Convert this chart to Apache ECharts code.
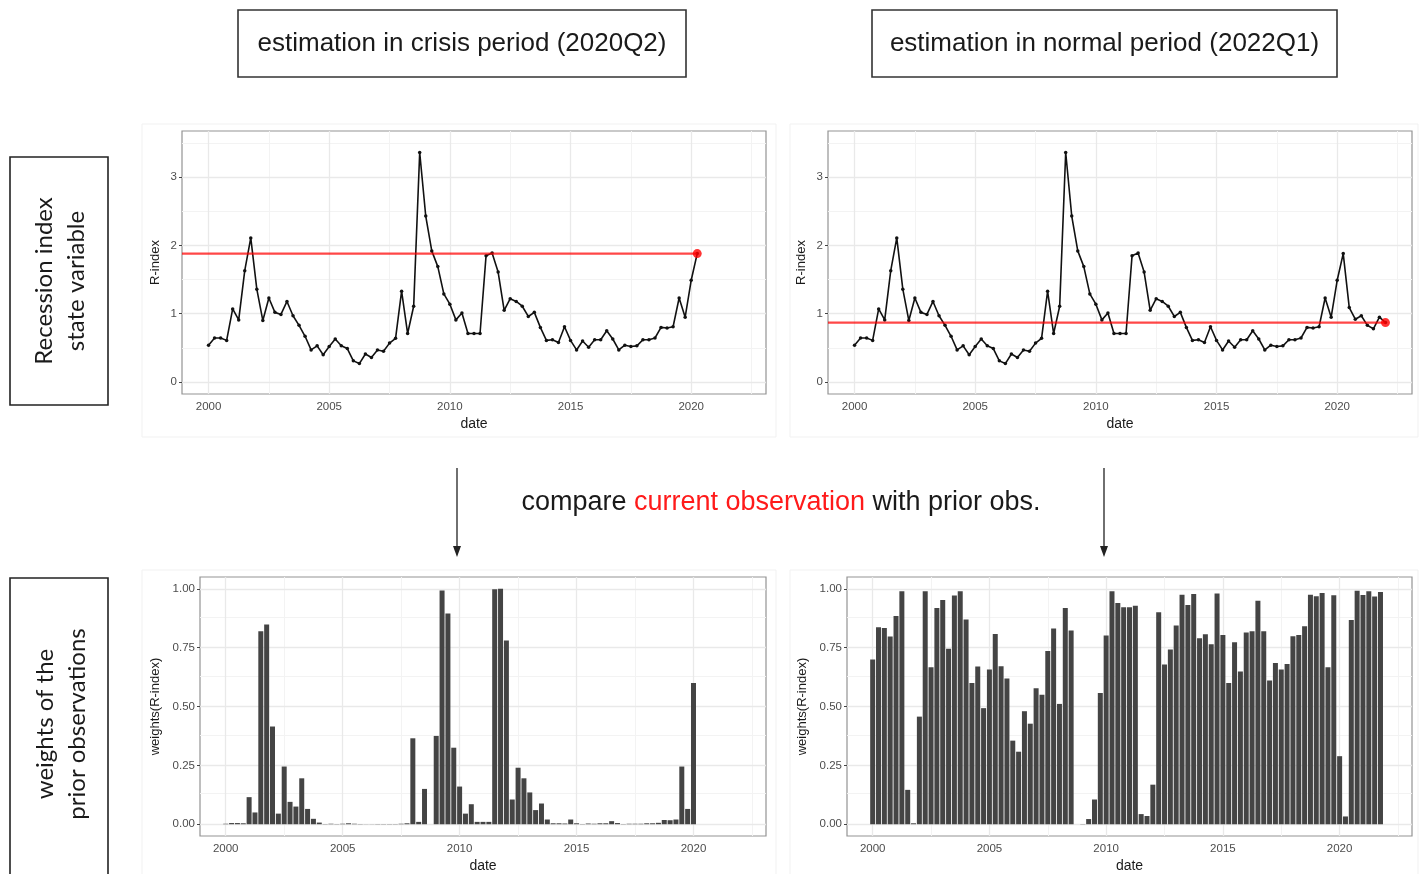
<!DOCTYPE html>
<html>
<head>
<meta charset="utf-8">
<script src="https://cdn.jsdelivr.net/npm/echarts@6/dist/echarts.min.js"></script>
<style>
html,body{margin:0;padding:0;background:#fff;}
#chart{width:1419px;height:874px;}
</style>
</head>
<body>
<div id="chart"></div>
<script>
// ---------------- data ----------------
const startYear = 2000; // first quarter 2000Q1, quarterly steps
// R-index, 2000Q1 .. 2022Q1
const rIndex = [
  0.54, 0.645, 0.645, 0.61,
  1.07, 0.91, 1.63, 2.11,
  1.36, 0.90, 1.23, 1.02,
  0.99, 1.18, 0.97, 0.83,
  0.67, 0.47, 0.53, 0.40,
  0.52, 0.63, 0.53, 0.49,
  0.31, 0.27, 0.41, 0.36,
  0.47, 0.45, 0.57, 0.64,
  1.33, 0.71, 1.11, 3.36,
  2.43, 1.92, 1.69, 1.29,
  1.14, 0.91, 1.01, 0.71,
  0.71, 0.71, 1.85, 1.89,
  1.61, 1.05, 1.22, 1.18,
  1.11, 0.96, 1.02, 0.80,
  0.61, 0.62, 0.58, 0.81,
  0.61, 0.47, 0.60, 0.51,
  0.62, 0.62, 0.75, 0.63,
  0.47, 0.54, 0.52, 0.53,
  0.62, 0.62, 0.645, 0.80,
  0.79, 0.81, 1.23, 0.95,
  1.49, 1.88, 1.09, 0.92,
  0.97, 0.83, 0.78, 0.95,
  0.87
];
const crisisCount = 82;   // 2000Q1 .. 2020Q2
const normalCount = 89;   // 2000Q1 .. 2022Q1

// weights of prior observations, crisis estimation (2000Q1 .. 2020Q1)
const weightsCrisis = [
  0.002, 0.005, 0.005, 0.004,
  0.115, 0.05, 0.82, 0.848,
  0.415, 0.045, 0.245, 0.095,
  0.075, 0.195, 0.065, 0.023,
  0.007, 0.001, 0.002, 0.001,
  0.002, 0.004, 0.002, 0.001,
  0.0005, 0.0005, 0.001, 0.001,
  0.001, 0.001, 0.002, 0.004,
  0.365, 0.01, 0.15, 0.0,
  0.375, 0.993, 0.895, 0.325,
  0.16, 0.045, 0.085, 0.01,
  0.01, 0.01, 0.998, 1.0,
  0.78, 0.105, 0.24, 0.195,
  0.135, 0.06, 0.088, 0.02,
  0.004, 0.004, 0.003, 0.02,
  0.004, 0.001, 0.003, 0.002,
  0.004, 0.004, 0.013, 0.005,
  0.001, 0.002, 0.002, 0.002,
  0.004, 0.004, 0.006, 0.018,
  0.017, 0.02, 0.245, 0.065,
  0.60
];
// weights of prior observations, normal estimation (2000Q1 .. 2021Q4)
const weightsNormal = [
  0.70, 0.837, 0.833, 0.797,
  0.884, 0.99, 0.146, 0.004,
  0.457, 0.99, 0.667, 0.918,
  0.952, 0.745, 0.971, 0.99,
  0.87, 0.60, 0.67, 0.493,
  0.657, 0.808, 0.671, 0.619,
  0.355, 0.308, 0.48, 0.427,
  0.577, 0.55, 0.736, 0.831,
  0.511, 0.918, 0.823, 0.0,
  0.001, 0.022, 0.105, 0.557,
  0.802, 0.99, 0.94, 0.921,
  0.922, 0.928, 0.043, 0.035,
  0.168, 0.90, 0.678, 0.742,
  0.844, 0.975, 0.931, 0.978,
  0.79, 0.807, 0.764, 0.98,
  0.804, 0.60, 0.773, 0.649,
  0.814, 0.82, 0.949, 0.82,
  0.61, 0.685, 0.657, 0.68,
  0.798, 0.804, 0.841, 0.975,
  0.968, 0.982, 0.667, 0.972,
  0.289, 0.033, 0.867, 0.992,
  0.974, 0.99, 0.967, 0.986
];

const xTicks = [2000, 2005, 2010, 2015, 2020];
const xMinor = [2002.5, 2007.5, 2012.5, 2017.5, 2022.5];
const rTicks = [0, 1, 2, 3];
const rMinor = [0.5, 1.5, 2.5, 3.5];
const wTicks = [0, 0.25, 0.5, 0.75, 1];
const wMinor = [0.125, 0.375, 0.625, 0.875];

const xMin = 1998.9, xMax = 2023.1;
const rMin = -0.175, rMax = 3.675;
const wMin = -0.05, wMax = 1.05;

// ---------------- helpers ----------------
const qx = i => startYear + i / 4;
const pairs = arr => arr.map((v, i) => [qx(i), v]);

const FONT = 'Liberation Sans, Arial, sans-serif';
const tickColor = '#4d4d4d';
const gridMajor = '#e9e9e9';
const gridMinor = '#f3f3f3';

const grids = [
  {left: 182, top: 131, width: 584, height: 263},
  {left: 828, top: 131, width: 584, height: 263},
  {left: 200, top: 577, width: 566, height: 262},
  {left: 847, top: 577, width: 565, height: 262}
].map(g => Object.assign(g, {show: true, backgroundColor: '#fff', borderColor: '#939393', borderWidth: 1.2, containLabel: false}));

function xAxisFor(gi) {
  return {
    type: 'value', gridIndex: gi, min: xMin, max: xMax,
    axisLine: {show: false},
    splitLine: {show: false},
    axisTick: {show: true, customValues: xTicks, length: 3, lineStyle: {color: '#444'}},
    axisLabel: {customValues: xTicks, color: tickColor, fontSize: 11.5, fontFamily: FONT, margin: 7,
      formatter: v => String(Math.round(v))},
    name: 'date', nameLocation: 'middle', nameGap: 23,
    nameTextStyle: {color: '#1a1a1a', fontSize: 14, fontFamily: FONT}
  };
}
function yAxisFor(gi, min, max, ticks, name, gap, fmt) {
  return {
    type: 'value', gridIndex: gi, min: min, max: max,
    axisLine: {show: false},
    splitLine: {show: false},
    axisTick: {show: true, customValues: ticks, length: 3, lineStyle: {color: '#444'}},
    axisLabel: {customValues: ticks, color: tickColor, fontSize: 11.5, fontFamily: FONT, margin: 5,
      formatter: fmt},
    name: name, nameLocation: 'middle', nameGap: gap, nameRotate: 90,
    nameTextStyle: {color: '#1a1a1a', fontSize: 13, fontFamily: FONT}
  };
}

function gridLinesSeries(gi, yMajor, yMinorArr) {
  const d = [];
  xMinor.forEach(v => d.push({xAxis: v, lineStyle: {color: gridMinor, width: 1, type: 'solid'}}));
  yMinorArr.forEach(v => d.push({yAxis: v, lineStyle: {color: gridMinor, width: 1, type: 'solid'}}));
  xTicks.forEach(v => d.push({xAxis: v, lineStyle: {color: gridMajor, width: 1.3, type: 'solid'}}));
  yMajor.forEach(v => d.push({yAxis: v, lineStyle: {color: gridMajor, width: 1.3, type: 'solid'}}));
  return {
    type: 'line', xAxisIndex: gi, yAxisIndex: gi, data: [], z: 1, silent: true,
    markLine: {silent: true, z: 1, symbol: 'none', animation: false, label: {show: false}, data: d}
  };
}

function rIndexSeries(gi, count) {
  const data = pairs(rIndex.slice(0, count));
  const cur = data[data.length - 1];
  return [
    gridLinesSeries(gi, rTicks, rMinor),
    {
      type: 'line', xAxisIndex: gi, yAxisIndex: gi, z: 6, data: data,
      symbol: 'circle', symbolSize: 3.5, showSymbol: true,
      itemStyle: {color: '#111'}, lineStyle: {color: '#111', width: 1.6}
    },
    {
      type: 'line', xAxisIndex: gi, yAxisIndex: gi, z: 7,
      data: [[xMin, cur[1]], [cur[0], cur[1]]], symbol: 'none',
      lineStyle: {color: 'rgba(255,0,0,0.72)', width: 2.2}
    },
    {
      type: 'scatter', xAxisIndex: gi, yAxisIndex: gi, z: 8,
      data: [cur], symbolSize: 9, itemStyle: {color: '#ff0000'}
    }
  ];
}
function weightSeries(gi, arr) {
  return [
    gridLinesSeries(gi, wTicks, wMinor),
    {
      type: 'bar', xAxisIndex: gi, yAxisIndex: gi, z: 6, data: pairs(arr),
      barWidth: 5, itemStyle: {color: '#444444'}
    }
  ];
}

const wFmt = v => v.toFixed(2);
const rFmt = v => String(v);

const option = {
  animation: false,
  backgroundColor: '#fff',
  grid: grids,
  xAxis: [xAxisFor(0), xAxisFor(1), xAxisFor(2), xAxisFor(3)],
  yAxis: [
    yAxisFor(0, rMin, rMax, rTicks, 'R-index', 20, rFmt),
    yAxisFor(1, rMin, rMax, rTicks, 'R-index', 20, rFmt),
    yAxisFor(2, wMin, wMax, wTicks, 'weights(R-index)', 38, wFmt),
    yAxisFor(3, wMin, wMax, wTicks, 'weights(R-index)', 38, wFmt)
  ],
  series: [].concat(
    rIndexSeries(0, crisisCount),
    rIndexSeries(1, normalCount),
    weightSeries(2, weightsCrisis),
    weightSeries(3, weightsNormal)
  ),
  graphic: [
    // faint frames of the four plot images
    {type: 'rect', z: -10, shape: {x: 142, y: 124, width: 634, height: 313}, style: {fill: 'none', stroke: '#f1f1f1', lineWidth: 1}},
    {type: 'rect', z: -10, shape: {x: 790, y: 124, width: 628, height: 313}, style: {fill: 'none', stroke: '#f1f1f1', lineWidth: 1}},
    {type: 'rect', z: -10, shape: {x: 142, y: 570, width: 634, height: 310}, style: {fill: 'none', stroke: '#f1f1f1', lineWidth: 1}},
    {type: 'rect', z: -10, shape: {x: 790, y: 570, width: 628, height: 310}, style: {fill: 'none', stroke: '#f1f1f1', lineWidth: 1}},
    // title boxes
    {type: 'rect', shape: {x: 238, y: 10, width: 448, height: 67}, style: {fill: '#fff', stroke: '#333', lineWidth: 1.6}},
    {type: 'text', x: 462, y: 44, style: {text: 'estimation in crisis period (2020Q2)', fill: '#1a1a1a',
      font: '26px Liberation Sans, Arial, sans-serif', textAlign: 'center', textVerticalAlign: 'middle'}},
    {type: 'rect', shape: {x: 872, y: 10, width: 465, height: 67}, style: {fill: '#fff', stroke: '#333', lineWidth: 1.6}},
    {type: 'text', x: 1104.5, y: 44, style: {text: 'estimation in normal period (2022Q1)', fill: '#1a1a1a',
      font: '26px Liberation Sans, Arial, sans-serif', textAlign: 'center', textVerticalAlign: 'middle'}},
    // row label boxes
    {type: 'rect', shape: {x: 10, y: 157, width: 98, height: 248}, style: {fill: '#fff', stroke: '#222', lineWidth: 1.6}},
    {type: 'text', x: 60, y: 281, rotation: Math.PI / 2, style: {text: 'Recession index\nstate variable', fill: '#1a1a1a',
      font: '24px Lato, sans-serif', lineHeight: 32, textAlign: 'center', textVerticalAlign: 'middle'}},
    {type: 'rect', shape: {x: 10, y: 578, width: 98, height: 310}, style: {fill: '#fff', stroke: '#222', lineWidth: 1.6}},
    {type: 'text', x: 61, y: 724, rotation: Math.PI / 2, style: {text: 'weights of the\nprior observations', fill: '#1a1a1a',
      font: '24px Lato, sans-serif', lineHeight: 32, textAlign: 'center', textVerticalAlign: 'middle'}},
    // middle caption
    {type: 'text', x: 781, y: 503, style: {
      text: '{a|compare }{b|current observation}{a| with prior obs.}',
      textAlign: 'center', textVerticalAlign: 'middle',
      rich: {
        a: {fill: '#1a1a1a', fontSize: 27, fontFamily: FONT},
        b: {fill: '#ff1a1a', fontSize: 27, fontFamily: FONT}
      }
    }},
    // arrows
    {type: 'line', shape: {x1: 457, y1: 468, x2: 457, y2: 548}, style: {stroke: '#222', lineWidth: 1.3}},
    {type: 'polygon', shape: {points: [[453, 546], [461, 546], [457, 557]]}, style: {fill: '#222'}},
    {type: 'line', shape: {x1: 1104, y1: 468, x2: 1104, y2: 548}, style: {stroke: '#222', lineWidth: 1.3}},
    {type: 'polygon', shape: {points: [[1100, 546], [1108, 546], [1104, 557]]}, style: {fill: '#222'}}
  ]
};

const chart = echarts.init(document.getElementById('chart'), null, {renderer: 'canvas'});
chart.setOption(option);
</script>
</body>
</html>
